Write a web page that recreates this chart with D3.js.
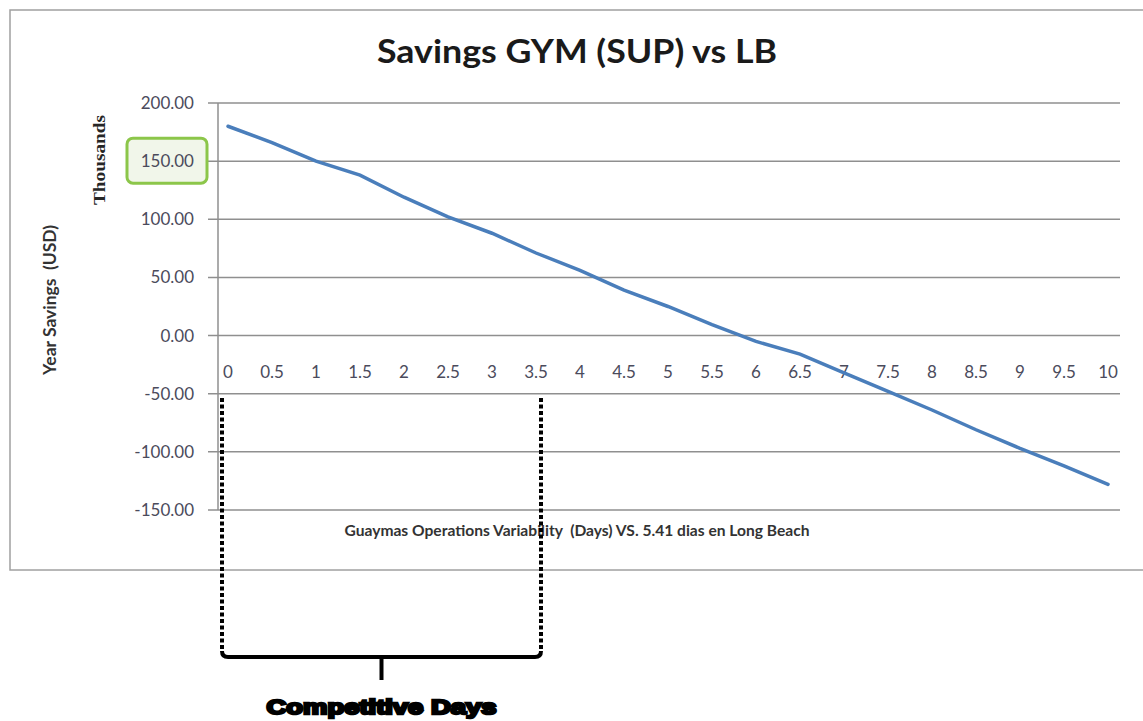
<!DOCTYPE html>
<html>
<head>
<meta charset="utf-8">
<script src="https://cdn.jsdelivr.net/npm/d3@7"></script>
<style>
  body { margin: 0; background: #fff; }
</style>
</head>
<body>
<div id="chart"></div>
<script>
// days of variability in Guaymas (category axis)
var days = [0, 0.5, 1, 1.5, 2, 2.5, 3, 3.5, 4, 4.5, 5, 5.5, 6, 6.5, 7, 7.5, 8, 8.5, 9, 9.5, 10];
// yearly savings, thousands of USD
var savings = [180, 166, 150, 138, 119, 102, 88, 71, 56, 39, 25, 9.5, -5, -16, -32, -48, -64, -81, -97, -112, -128];
var yTicks = [200, 150, 100, 50, 0, -50, -100, -150];
var xLabels = ["0", "0.5", "1", "1.5", "2", "2.5", "3", "3.5", "4", "4.5", "5", "5.5", "6", "6.5", "7", "7.5", "8", "8.5", "9", "9.5", "10"];
// competitive window marked with the bracket
var competitive = [0, 3.5];

var width = 1143, height = 721;
var sans = "Lato, 'Open Sans', sans-serif";

var svg = d3.select("#chart")
  .append("svg")
  .attr("width", width)
  .attr("height", height)
  .style("font-family", sans);

// chart frame
svg.append("rect")
  .attr("x", 10).attr("y", 10)
  .attr("width", 1150).attr("height", 560)
  .attr("fill", "#fff")
  .attr("stroke", "#a0a0a0")
  .attr("stroke-width", 1.5);

var plotLeft = 218, plotRight = 1120;

var xScale = d3.scaleLinear()
  .domain([0, 10])
  .range([228, 1108]);

var yScale = d3.scaleLinear()
  .domain([-150, 200])
  .range([510, 103]);

// gridlines + ticks
svg.append("g")
  .attr("class", "grid")
  .selectAll("line")
  .data(yTicks)
  .enter().append("line")
  .attr("x1", plotLeft - 10)
  .attr("x2", plotRight)
  .attr("y1", function (d) { return yScale(d); })
  .attr("y2", function (d) { return yScale(d); })
  .attr("stroke", "#8f8f8f")
  .attr("stroke-width", 1.5);

// y axis line
svg.append("line")
  .attr("x1", plotLeft).attr("x2", plotLeft)
  .attr("y1", yScale(200)).attr("y2", yScale(-150))
  .attr("stroke", "#8f8f8f")
  .attr("stroke-width", 1.5);

// green highlight box around 150.00
svg.append("rect")
  .attr("x", 127).attr("y", yScale(150) - 23)
  .attr("width", 80).attr("height", 45)
  .attr("rx", 6)
  .attr("fill", "#f1f6ea")
  .attr("stroke", "#8cc64a")
  .attr("stroke-width", 3);

// y tick labels
svg.append("g")
  .selectAll("text")
  .data(yTicks)
  .enter().append("text")
  .attr("x", 194)
  .attr("y", function (d) { return yScale(d); })
  .attr("dy", "0.35em")
  .attr("text-anchor", "end")
  .attr("font-size", 17)
  .attr("fill", "#4b4b5c")
  .text(function (d) { return d.toFixed(2); });

// x labels under the zero line
svg.append("g")
  .selectAll("text")
  .data(days)
  .enter().append("text")
  .attr("x", function (d) { return xScale(d); })
  .attr("y", yScale(0) + 36)
  .attr("dy", "0.35em")
  .attr("text-anchor", "middle")
  .attr("font-size", 17)
  .attr("fill", "#4b4b5c")
  .text(function (d, i) { return xLabels[i]; });

// savings line
var line = d3.line()
  .x(function (d, i) { return xScale(days[i]); })
  .y(function (d) { return yScale(d); });

svg.append("path")
  .datum(savings)
  .attr("d", line)
  .attr("fill", "none")
  .attr("stroke", "#4a7ebb")
  .attr("stroke-width", 3.5)
  .attr("stroke-linecap", "round");

// titles
svg.append("text")
  .attr("x", 577).attr("y", 63)
  .attr("text-anchor", "middle")
  .attr("font-size", 33)
  .attr("font-weight", 700)
  .attr("fill", "#1a1a1a")
  .attr("textLength", 400)
  .attr("lengthAdjust", "spacingAndGlyphs")
  .text("Savings GYM (SUP) vs LB");

svg.append("text")
  .attr("transform", "translate(105,160) rotate(-90)")
  .attr("text-anchor", "middle")
  .style("font-family", "'Liberation Serif', serif")
  .attr("font-size", 17)
  .attr("font-weight", 700)
  .attr("fill", "#262626")
  .attr("textLength", 90)
  .attr("lengthAdjust", "spacingAndGlyphs")
  .text("Thousands");

svg.append("text")
  .attr("transform", "translate(56,300) rotate(-90)")
  .attr("text-anchor", "middle")
  .attr("font-size", 16.5)
  .attr("font-weight", 700)
  .attr("fill", "#333")
  .attr("xml:space", "preserve")
  .attr("textLength", 150)
  .attr("lengthAdjust", "spacingAndGlyphs")
  .text("Year Savings  (USD)");

svg.append("text")
  .attr("x", 577).attr("y", 531)
  .attr("dy", "0.35em")
  .attr("text-anchor", "middle")
  .attr("font-size", 15.5)
  .attr("font-weight", 700)
  .attr("fill", "#333")
  .attr("xml:space", "preserve")
  .attr("textLength", 465)
  .attr("lengthAdjust", "spacingAndGlyphs")
  .text("Guaymas Operations Variability  (Days) VS. 5.41 dias en Long Beach");

// competitive days bracket
var bracketY = 657;
var bx0 = xScale(competitive[0]) - 6, bx1 = xScale(competitive[1]) + 5;

svg.append("g")
  .selectAll("line")
  .data([bx0, bx1])
  .enter().append("line")
  .attr("x1", function (d) { return d; })
  .attr("x2", function (d) { return d; })
  .attr("y1", 398)
  .attr("y2", bracketY - 6)
  .attr("stroke", "#000")
  .attr("stroke-width", 4)
  .attr("stroke-dasharray", "4,2.5");

svg.append("path")
  .attr("d", "M" + bx0 + "," + (bracketY - 6) +
    " Q" + bx0 + "," + bracketY + " " + (bx0 + 6) + "," + bracketY +
    " L" + (bx1 - 6) + "," + bracketY +
    " Q" + bx1 + "," + bracketY + " " + bx1 + "," + (bracketY - 6))
  .attr("fill", "none")
  .attr("stroke", "#000")
  .attr("stroke-width", 4);

var midX = (bx0 + bx1) / 2;
svg.append("line")
  .attr("x1", midX).attr("x2", midX)
  .attr("y1", bracketY).attr("y2", 680)
  .attr("stroke", "#000")
  .attr("stroke-width", 4);

svg.append("text")
  .attr("x", midX).attr("y", 707)
  .attr("dy", "0.35em")
  .attr("text-anchor", "middle")
  .style("font-family", "'Liberation Sans', Arial, sans-serif")
  .attr("font-size", 21)
  .attr("font-weight", 700)
  .attr("fill", "#000")
  .attr("stroke", "#000")
  .attr("stroke-width", 2.5)
  .attr("textLength", 230)
  .attr("lengthAdjust", "spacingAndGlyphs")
  .text("Competitive Days");
</script>
</body>
</html>
